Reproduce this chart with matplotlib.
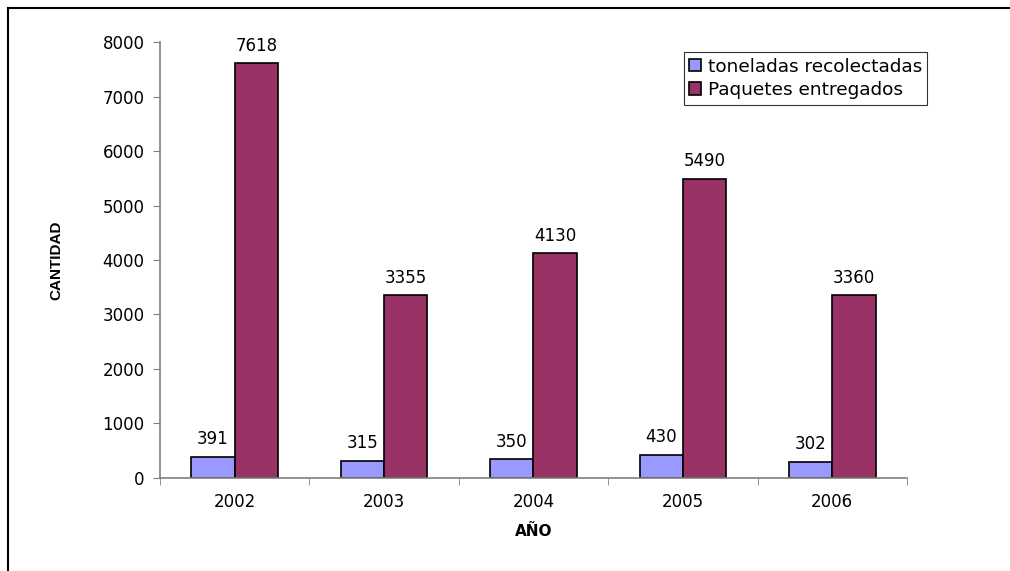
import numpy as np
import matplotlib.pyplot as plt
from matplotlib.lines import Line2D

plt.rcParams['font.family'] = ['DejaVu Sans']

years = ['2002', '2003', '2004', '2005', '2006']
toneladas = [391, 315, 350, 430, 302]
paquetes = [7618, 3355, 4130, 5490, 3360]

fig = plt.figure(figsize=(10.1, 5.71), dpi=100)
ax = fig.add_axes([0.1584, 0.1629, 0.7396, 0.7635])

x = np.arange(len(years))
w = 0.29
b1 = ax.bar(x - w / 2, toneladas, w, color='#9999FF', edgecolor='black', linewidth=1.2,
            label='toneladas recolectadas')
b2 = ax.bar(x + w / 2, paquetes, w, color='#993366', edgecolor='black', linewidth=1.2,
            label='Paquetes entregados')

for bars, vals in ((b1, toneladas), (b2, paquetes)):
    for r, v in zip(bars, vals):
        ax.annotate(str(v), (r.get_x() + r.get_width() / 2, v), xytext=(0, 6),
                    textcoords='offset points', ha='center', va='bottom', fontsize=12)

ax.set_xlim(-0.5, len(years) - 0.5)
ax.set_ylim(0, 8000)
ax.set_yticks(range(0, 8001, 1000))
ax.tick_params(axis='y', direction='out', length=5, color='#808080', labelsize=12, pad=6)

ax.set_xticks(x)
ax.set_xticklabels(years)
ax.set_xticks(np.arange(-0.5, len(years), 1), minor=True)
ax.tick_params(axis='x', which='major', length=0, labelsize=12, pad=11)
ax.tick_params(axis='x', which='minor', direction='out', length=5, color='#808080')

for s in ('top', 'right'):
    ax.spines[s].set_visible(False)
for s in ('left', 'bottom'):
    ax.spines[s].set_color('#808080')
    ax.spines[s].set_linewidth(1.2)

ax.set_ylabel('CANTIDAD', fontsize=11, fontweight='bold', labelpad=28,
              family='Liberation Sans')
ax.set_xlabel('AÑO', fontsize=11, fontweight='bold', labelpad=9)

leg = ax.legend(loc='upper left', bbox_to_anchor=(0.701, 0.977), fontsize=13.3,
                frameon=True, fancybox=False, edgecolor='black', handlelength=0.65,
                handleheight=0.65, handletextpad=0.35, borderpad=0.3, labelspacing=0.3,
                borderaxespad=0)
leg.get_frame().set_linewidth(0.8)

# outer frame (top and left edges only)
fig.add_artist(Line2D([8 / 1010, 1], [1 - 8 / 571, 1 - 8 / 571], color='black', lw=1.5))
fig.add_artist(Line2D([8 / 1010, 8 / 1010], [0, 1 - 8 / 571], color='black', lw=1.5))

fig.savefig('out.png', dpi=100)
